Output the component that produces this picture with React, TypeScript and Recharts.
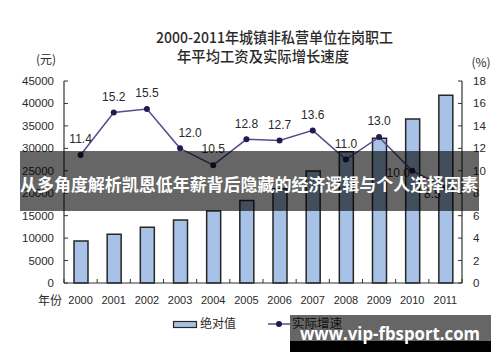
import React from 'react';
import { ComposedChart, Bar, Line, XAxis, YAxis, LabelList } from 'recharts';

const years = ['2000', '2001', '2002', '2003', '2004', '2005', '2006', '2007', '2008', '2009', '2010', '2011'];
const wages = [9371, 10870, 12422, 14040, 16024, 18364, 21001, 24932, 29229, 32244, 36539, 41799];
const growth = [11.4, 15.2, 15.5, 12.0, 10.5, 12.8, 12.7, 13.6, 11.0, 13.0, 10.0, 8.5];
const leftTicks = [0, 5000, 10000, 15000, 20000, 25000, 30000, 35000, 40000, 45000];
const rightTicks = [0, 2, 4, 6, 8, 10, 12, 14, 16, 18];
const title1 = '2000-2011年城镇非私营单位在岗职工';
const title2 = '年平均工资及实际增长速度';
const leftUnit = '(元)';
const rightUnit = '(%)';
const xName = '年份';
const barName = '绝对值';
const lineName = '实际增速';
const bannerText = '从多角度解析凯恩低年薪背后隐藏的经济逻辑与个人选择因素';
const watermarkText = 'www.vip-fbsport.com';

const data = years.map((y, i) => ({ year: y, wage: wages[i], growth: growth[i] }));

const NUM_FONT = '"Liberation Sans", Arial, sans-serif';
const CJK_FONT = '"Noto Sans CJK SC", "Liberation Sans", sans-serif';
const BAND = 398 / 12;
const TEXT = '#2a2a2a';

const XTick = (props: any) => {
  const { x, y, payload, index } = props;
  return (
    <g>
      <line x1={x - BAND / 2} x2={x - BAND / 2} y1={y} y2={y - 4} stroke="#333" strokeWidth={1} />
      {index === years.length - 1 && (
        <line x1={x + BAND / 2} x2={x + BAND / 2} y1={y} y2={y - 4} stroke="#333" strokeWidth={1} />
      )}
      <text x={x} y={y + 17} dy="0.35em" textAnchor="middle" fontSize={11} fill={TEXT} fontFamily={NUM_FONT}>
        {payload.value}
      </text>
    </g>
  );
};

const LeftTick = (props: any) => {
  const { x, y, payload } = props;
  return (
    <g>
      <line x1={x} x2={x + 4} y1={y} y2={y} stroke="#333" strokeWidth={1} />
      <text x={x - 10} y={y} dy="0.35em" textAnchor="end" fontSize={11.5} fill={TEXT} fontFamily={NUM_FONT}>
        {payload.value}
      </text>
    </g>
  );
};

const RightTick = (props: any) => {
  const { x, y, payload } = props;
  return (
    <g>
      <line x1={x} x2={x - 4} y1={y} y2={y} stroke="#333" strokeWidth={1} />
      <text x={x + 11} y={y} dy="0.35em" textAnchor="start" fontSize={11.5} fill={TEXT} fontFamily={NUM_FONT}>
        {payload.value}
      </text>
    </g>
  );
};

const GrowthLabel = (props: any) => {
  const { x, y, value, index } = props;
  let dx = 0;
  let dy = -16;
  if (index === 3) dx = 10;
  if (index === 10) { dx = -14; dy = 2; }
  if (index === 11) { dx = -13; dy = 6; }
  return (
    <text x={x + dx} y={y + dy} dy="0.35em" textAnchor="middle" fontSize={12} fill={TEXT} fontFamily={NUM_FONT}>
      {Number(value).toFixed(1)}
    </text>
  );
};

const GrowthDot = (props: any) => {
  const { cx, cy } = props;
  return <circle cx={cx} cy={cy} r={3} fill="#231a4e" stroke="none" />;
};

export default function App() {
  return (
    <div style={{ position: 'absolute', left: 0, top: 0, width: 500, height: 362, background: '#fff' }}>
      <ComposedChart
        width={500}
        height={362}
        data={data}
        margin={{ top: 81, right: 0, bottom: 49, left: 0 }}
      >
        <XAxis
          dataKey="year"
          tick={<XTick />}
          tickLine={false}
          tickSize={0}
          tickMargin={0}
          height={30}
          axisLine={{ stroke: '#333', strokeWidth: 1.2 }}
          interval={0}
        />
        <YAxis
          yAxisId="left"
          orientation="left"
          width={64}
          domain={[0, 45000]}
          ticks={leftTicks}
          tick={<LeftTick />}
          tickLine={false}
          tickSize={0}
          tickMargin={0}
          axisLine={{ stroke: '#333', strokeWidth: 1.2 }}
          interval={0}
        />
        <YAxis
          yAxisId="right"
          orientation="right"
          width={38}
          domain={[0, 18]}
          ticks={rightTicks}
          tick={<RightTick />}
          tickLine={false}
          tickSize={0}
          tickMargin={0}
          axisLine={{ stroke: '#333', strokeWidth: 1.2 }}
          interval={0}
        />
        <Bar
          yAxisId="left"
          dataKey="wage"
          barSize={14}
          fill="#a7c2e6"
          stroke="#262626"
          strokeWidth={1.5}
          isAnimationActive={false}
        />
        <Line
          yAxisId="right"
          dataKey="growth"
          stroke="#5b4a8e"
          strokeWidth={1.5}
          dot={<GrowthDot />}
          activeDot={false}
          isAnimationActive={false}
        >
          <LabelList dataKey="growth" content={<GrowthLabel />} />
        </Line>
      </ComposedChart>
      <svg
        width={500}
        height={362}
        style={{ position: 'absolute', left: 0, top: 0, pointerEvents: 'none' }}
      >
        <text x={156} y={38} dy="0.35em" fontSize={15} fontWeight={500} fill={TEXT} fontFamily={CJK_FONT} textLength={237} lengthAdjust="spacingAndGlyphs">
          {title1}
        </text>
        <text x={177} y={57} dy="0.35em" fontSize={15} fontWeight={500} fill={TEXT} fontFamily={CJK_FONT} textLength={172} lengthAdjust="spacingAndGlyphs">
          {title2}
        </text>
        <text x={46} y={60} dy="0.35em" textAnchor="middle" fontSize={12} fill={TEXT} fontFamily={CJK_FONT}>{leftUnit}</text>
        <text x={481} y={63} dy="0.35em" textAnchor="middle" fontSize={12} fill={TEXT} fontFamily={CJK_FONT}>{rightUnit}</text>
        <text x={50} y={301} dy="0.35em" textAnchor="middle" fontSize={12} fill={TEXT} fontFamily={CJK_FONT}>{xName}</text>

        <rect x={173.5} y={321.5} width={23} height={6} fill="#a7c2e6" stroke="#262626" strokeWidth={1.2} />
        <text x={200} y={324} dy="0.35em" fontSize={12} fill={TEXT} fontFamily={CJK_FONT}>{barName}</text>
        <line x1={268} x2={290} y1={324} y2={324} stroke="#5b4a8e" strokeWidth={1.5} />
        <circle cx={279} cy={324} r={3} fill="#231a4e" />
        <text x={292} y={324} dy="0.35em" fontSize={12.5} fill={TEXT} fontFamily={CJK_FONT}>{lineName}</text>

        <rect x={20} y={151} width={459} height={60} fill="rgba(0,0,0,0.6)" />
        <text x={20} y={185} dy="0.35em" fontSize={17} fontWeight={700} fill="#fff" fontFamily={CJK_FONT} textLength={458} lengthAdjust="spacingAndGlyphs">
          {bannerText}
        </text>

        <rect x={290} y={315} width={201} height={26} fill="rgba(0,0,0,0.6)" />
        <rect x={290} y={341} width={201} height={11} fill="#000" />
        <text x={300} y={334} dy="0.35em" fontSize={18} fontWeight={700} fill="#fff" fontFamily={'"Open Sans", "DejaVu Sans", sans-serif'} textLength={180} lengthAdjust="spacingAndGlyphs">
          {watermarkText}
        </text>
      </svg>
    </div>
  );
}
